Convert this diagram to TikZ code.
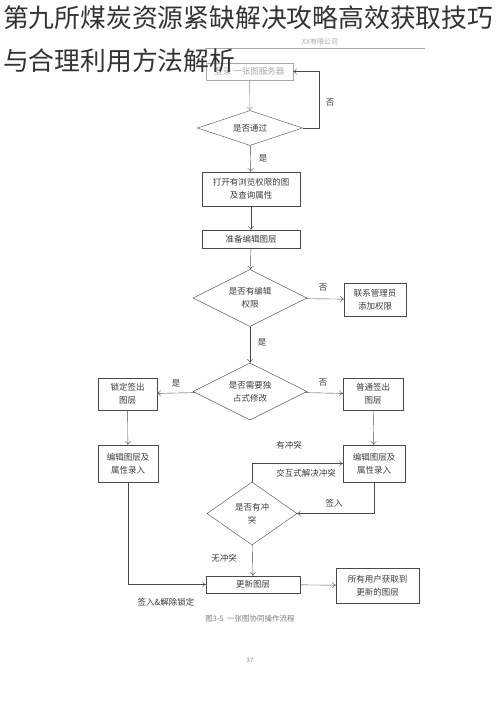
\documentclass[tikz,border=0pt]{standalone}
\usepackage{fontspec}
\setmainfont{Noto Sans CJK SC}
\usetikzlibrary{shapes.geometric,arrows.meta}
\definecolor{lineg}{HTML}{4A4A4A}
\definecolor{textg}{HTML}{3C3C3C}
\definecolor{fadeg}{HTML}{A8A8A8}
\definecolor{titleg}{HTML}{333333}
\begin{document}
\begin{tikzpicture}[x=1pt,y=-1pt,
  every node/.style={font=\fontsize{8.5}{13}\selectfont, text=textg},
  box/.style={draw=lineg, rectangle, inner sep=0pt, align=center},
  dia/.style={draw=lineg, diamond, inner sep=0pt, align=center},
  flow/.style={draw=lineg, -{To[length=3.5pt,width=6pt]}},
  lbl/.style={inner sep=1pt}]
\useasboundingbox (0,0) rectangle (500,707);
% header
\draw[fadeg, line width=0.4pt] (205,48) -- (425,48);
\node[font=\fontsize{7}{8}\selectfont, text=fadeg] (firm) at (320,42) {XX有限公司};
% nodes
\node[box, draw=fadeg, text=fadeg, minimum width=87, minimum height=17] (login) at (249.5,71.5) {登录\ 一张图服务器};
\node[dia, minimum width=105, minimum height=35, aspect=3] (pass) at (250,128) {是否通过};
\node[box, minimum width=98, minimum height=34] (open) at (251,189) {打开有浏览权限的图\\及查询属性};
\node[box, minimum width=98, minimum height=18] (prep) at (251,239) {准备编辑图层};
\node[dia, minimum width=114, minimum height=57, aspect=2] (right) at (250,298) {是否有编辑\\权限};
\node[box, minimum width=62, minimum height=33] (admin) at (375,299.5) {联系管理员\\添加权限};
\node[dia, minimum width=114, minimum height=57, aspect=2] (lock) at (250,391.5) {是否需要独\\占式修改};
\node[box, minimum width=59, minimum height=32] (lockout) at (127.5,394) {锁定签出\\图层};
\node[box, minimum width=60, minimum height=32] (normout) at (373,394) {普通签出\\图层};
\node[box, minimum width=60, minimum height=37] (edita) at (128,463.5) {编辑图层及\\属性录入};
\node[box, minimum width=62, minimum height=37] (editb) at (374,463.5) {编辑图层及\\属性录入};
\node[dia, minimum width=90, minimum height=63, aspect=1.4] (conf) at (252,513.5) {是否有冲\\突};
\node[box, minimum width=94, minimum height=17] (update) at (253,584.5) {更新图层};
\node[box, minimum width=83, minimum height=35] (all) at (377.5,585.5) {所有用户获取到\\更新的图层};
% connectors
\draw[flow, draw=fadeg!70!lineg] (login) -- (pass);
\draw[flow] (pass.east) -- ++(16,0) |- (login.east);
\draw[flow] (pass) -- (open);
\draw[flow] (open) -- (prep);
\draw[flow] (prep) -- (right);
\draw[flow] (right) -- (admin);
\draw[flow] (right) -- (lock);
\draw[flow] (lock) -- (lockout);
\draw[flow] (lock) -- (normout);
\draw[flow] (lockout) -- (edita);
\draw[flow] (normout) -- (editb);
\draw[flow] (editb.south) |- (conf.east);
\draw[flow] (conf.north) |- (editb.west);
\draw[flow] (conf) -- (update);
\draw[flow] (edita.south) |- (update.west);
\draw[flow] (update) -- (all);
% labels
\node[lbl] (no1) at (330,103) {否};
\node[lbl] (yes1) at (263,158) {是};
\node[lbl] (no2) at (323,288) {否};
\node[lbl] (yes2) at (262,342) {是};
\node[lbl] (yes3) at (176,383) {是};
\node[lbl] (no3) at (323,383) {否};
\node[lbl] (hasc) at (289,445) {有冲突};
\node[lbl] (solve) at (306,473) {交互式解决冲突};
\node[lbl] (chkin) at (334,503) {签入};
\node[lbl] (noc) at (224,558) {无冲突};
\node[lbl] (unlock) at (166,602) {签入\&解除锁定};
% caption
\node[font=\fontsize{7.5}{9}\selectfont, text=fadeg!60!textg] (cap) at (250,619) {图3-5\ \ 一张图协同操作流程};
\node[font=\fontsize{6}{7}\selectfont, text=fadeg!60!textg] (page) at (250,660) {37};
% title
\node[anchor=west, inner sep=0pt, font=\fontsize{25.8}{26}\selectfont, text=titleg] (title1) at (3,18) {第九所煤炭资源紧缺解决攻略高效获取技巧};
\node[anchor=west, inner sep=0pt, font=\fontsize{25.8}{26}\selectfont, text=titleg] (title2) at (3,61) {与合理利用方法解析};
\end{tikzpicture}
\end{document}
